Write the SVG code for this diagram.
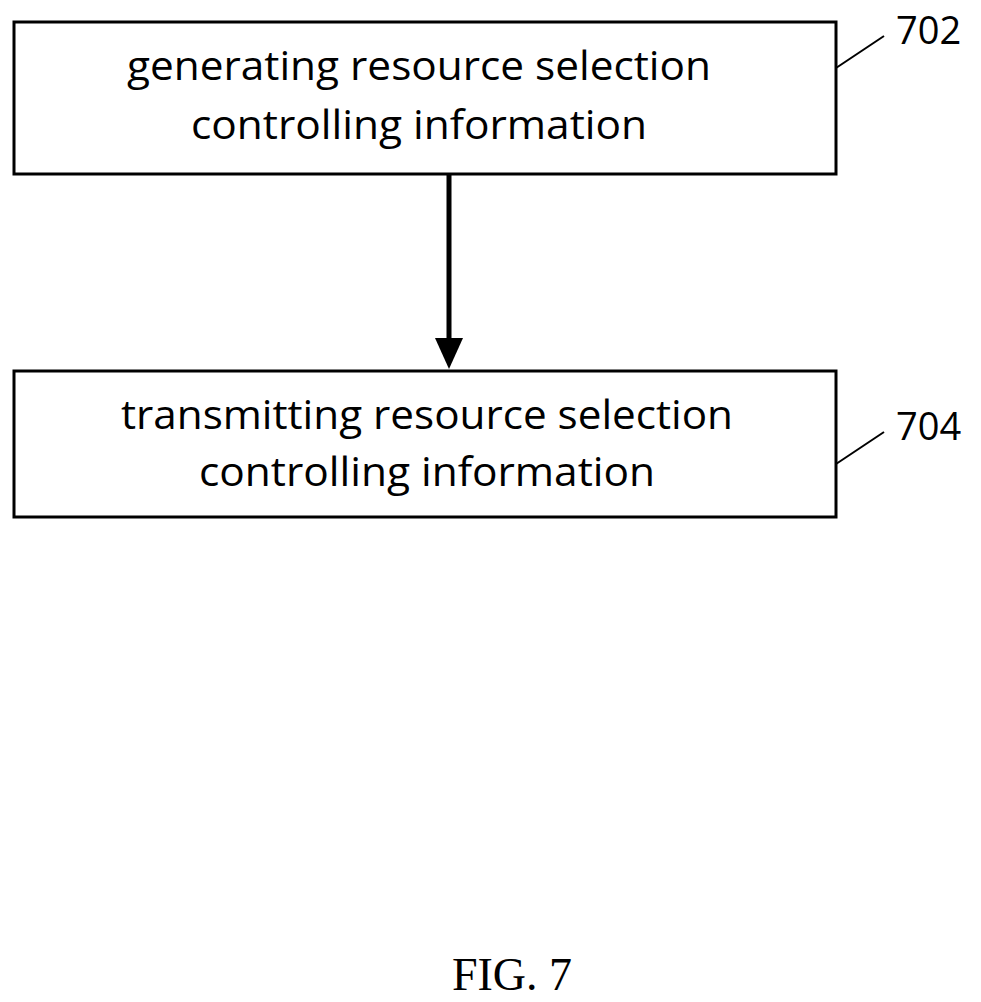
<svg xmlns="http://www.w3.org/2000/svg" width="981" height="1002" viewBox="0 0 981 1002">
<style>
.box{fill:#fff;stroke:#000;stroke-width:3}
.t{font-family:"Open Sans","Liberation Sans",sans-serif;font-size:40px;text-anchor:middle;fill:#000}
.ref{font-family:"Open Sans","Liberation Sans",sans-serif;font-size:38px;fill:#000}
.ln{stroke:#000;stroke-width:2;fill:none}
</style>
<rect width="981" height="1002" fill="#fff"/>
<g id="n702">
<rect class="box" x="14" y="22" width="822" height="152"/>
<text class="t" x="419" y="80" textLength="584" lengthAdjust="spacingAndGlyphs">generating resource selection</text>
<text class="t" x="419" y="139" textLength="456" lengthAdjust="spacingAndGlyphs">controlling information</text>
<path class="ln" d="M836,68 L884,36"/>
<text class="ref" x="896" y="44">702</text>
</g>
<g id="n704">
<rect class="box" x="14" y="371" width="822" height="146"/>
<text class="t" x="427" y="429" textLength="612" lengthAdjust="spacingAndGlyphs">transmitting resource selection</text>
<text class="t" x="427" y="486" textLength="456" lengthAdjust="spacingAndGlyphs">controlling information</text>
<path class="ln" d="M836,464 L884,432"/>
<text class="ref" x="896" y="440">704</text>
</g>
<g id="connectors">
<line x1="449" y1="174" x2="449" y2="340" stroke="#000" stroke-width="5"/>
<path d="M435,338 L463,338 L449,369 z"/>
</g>
<text x="512" y="990" font-family="Liberation Serif,serif" font-size="46" text-anchor="middle">FIG. 7</text>
</svg>
